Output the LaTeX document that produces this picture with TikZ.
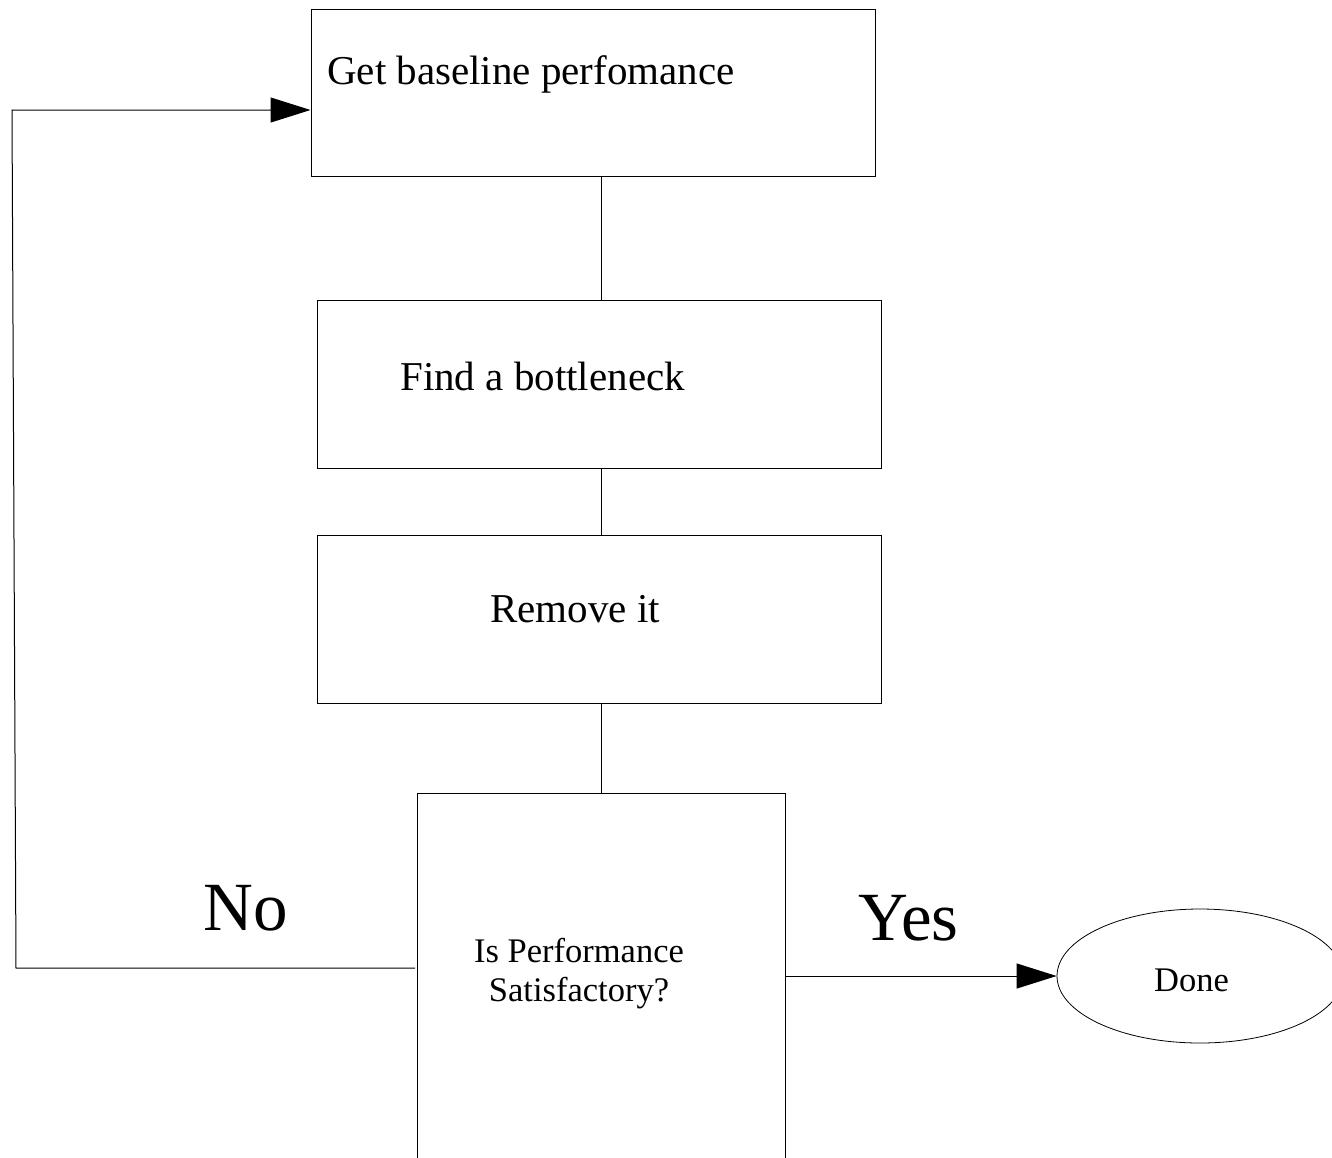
\documentclass[tikz,border=0pt]{standalone}
\usepackage{fontspec}
\setmainfont{Liberation Serif}
\usetikzlibrary{arrows.meta,shapes.geometric}
\tikzset{
  box/.style={draw=black,line width=1pt,rectangle,inner sep=0pt},
  conn/.style={draw=black,line width=1pt},
  arr/.style={conn,-{Triangle[length=40pt,width=25pt]}},
  bigtxt/.style={inner sep=0pt,font=\fontsize{41}{49}\selectfont},
  midtxt/.style={inner sep=0pt,font=\fontsize{34.5}{39}\selectfont},
  hugetxt/.style={inner sep=0pt,font=\fontsize{69}{80}\selectfont},
}
\begin{document}
\begin{tikzpicture}[x=1pt,y=-1pt]
\useasboundingbox (0,0) rectangle (1332,1157);
\clip (0,0) rectangle (1332,1157);
\fill[white] (0,0) rectangle (1332,1157);
% boxes
\node[box,minimum width=564pt,minimum height=167pt] (b1) at (593,92.5) {};
\node[box,minimum width=564pt,minimum height=168pt] (b2) at (599,384) {};
\node[box,minimum width=564pt,minimum height=168pt] (b3) at (599,619) {};
\node[box,minimum width=368pt,minimum height=377pt] (b4) at (601,981.5) {};
\node[draw=black,line width=0.8pt,ellipse,minimum width=286pt,minimum height=134pt,inner sep=0pt] (done) at (1200,976) {};
% texts
\node[bigtxt,anchor=base west] (t1) at (327,84) {Get baseline perfomance};
\node[bigtxt,anchor=base west] (t2) at (400,390) {Find a bottleneck};
\node[bigtxt,anchor=base west] (t3) at (490,622) {Remove it};
\node[midtxt,anchor=base] (t4a) at (579,962) {Is Performance};
\node[midtxt,anchor=base] (t4b) at (579,1001) {Satisfactory?};
\node[midtxt,anchor=base west] (t5) at (1154,991) {Done};
\node[hugetxt,anchor=base west] (tno) at (203,930) {No};
\node[hugetxt,anchor=base west] (tyes) at (858,940) {Yes};
% connectors
\coordinate (vx) at (601,0);
\draw[conn] (b1.south -| vx) -- (b2.north -| vx);
\draw[conn] (b2.south -| vx) -- (b3.north -| vx);
\draw[conn] (b3.south -| vx) -- (b4.north -| vx);
\coordinate (nostart) at (415,968);
\coordinate (nocorner1) at (16,968);
\coordinate (nocorner2) at (12,110);
\draw[arr] (nostart) -- (nocorner1) -- (nocorner2) -- (b1.west |- nocorner2);
\draw[arr] (b4.east |- done.west) -- (done.west);
\end{tikzpicture}
\end{document}
